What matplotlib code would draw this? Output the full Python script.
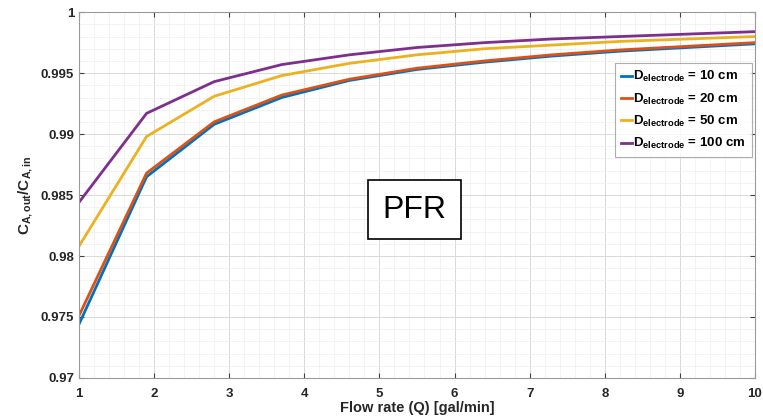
import numpy as np
import matplotlib
matplotlib.use("Agg")
import matplotlib.pyplot as plt
from matplotlib.ticker import MultipleLocator

plt.rcParams['font.family'] = ['Liberation Sans', 'DejaVu Sans']
plt.rcParams['font.weight'] = 'bold'
plt.rcParams['mathtext.fontset'] = 'custom'
plt.rcParams['mathtext.rm'] = 'Liberation Sans:bold'
plt.rcParams['mathtext.bf'] = 'Liberation Sans:bold'
plt.rcParams['mathtext.it'] = 'Liberation Sans:bold'

# flow rate (gal/min)
Q = [1.0, 1.9, 2.8, 3.7, 4.6, 5.5, 6.4, 7.3, 8.2, 9.1, 10.0]

# C_A,out / C_A,in for each electrode diameter
ratio_10 = [0.9744, 0.9865, 0.9908, 0.9930, 0.9944, 0.9953, 0.9959, 0.9964, 0.9968, 0.9971, 0.9974]
ratio_20 = [0.9751, 0.9868, 0.9910, 0.9932, 0.9945, 0.9954, 0.9960, 0.9965, 0.9969, 0.9972, 0.9975]
ratio_50 = [0.9808, 0.9898, 0.9931, 0.9948, 0.9958, 0.9965, 0.9970, 0.9973, 0.9976, 0.9978, 0.9980]
ratio_100 = [0.9844, 0.9917, 0.9943, 0.9957, 0.9965, 0.9971, 0.9975, 0.9978, 0.9980, 0.9982, 0.9984]

labels = ['10 cm', '20 cm', '50 cm', '100 cm']
colors = ['#0072BD', '#D95319', '#EDB120', '#7E2F8E']

fig = plt.figure(figsize=(7.63, 4.19), dpi=100)
ax = fig.add_axes([0.1035, 0.098, 0.886, 0.873])

for y, lab, c in zip([ratio_10, ratio_20, ratio_50, ratio_100], labels, colors):
    ax.plot(Q, y, color=c, lw=2, label=r'$\mathbf{D}_{\mathbf{electrode}}$ = ' + lab)

ax.set_xlim(1, 10)
ax.set_ylim(0.97, 1.0)
ax.xaxis.set_major_locator(MultipleLocator(1))
ax.xaxis.set_minor_locator(MultipleLocator(0.2))
ax.yaxis.set_minor_locator(MultipleLocator(0.001))
ax.set_yticks([0.97, 0.975, 0.98, 0.985, 0.99, 0.995, 1.0])
ax.set_yticklabels(['0.97', '0.975', '0.98', '0.985', '0.99', '0.995', '1'])

ax.grid(which='major', color='#d9d9d9', lw=0.7)
ax.grid(which='minor', color='#efefef', lw=0.5)
ax.set_axisbelow(True)
ax.tick_params(which='both', direction='in', top=True, right=True, colors='#404040', labelsize=9.5)
ax.tick_params(axis='x', pad=7)
ax.tick_params(which='minor', length=0)
for s in ax.spines.values():
    s.set_color('#9a9a9a')
    s.set_linewidth(0.8)
for t in ax.get_xticklabels() + ax.get_yticklabels():
    t.set_fontweight('bold')
    t.set_color('#262626')

ax.set_xlabel('Flow rate (Q) [gal/min]', fontsize=10.5, fontweight='bold', color='#262626', labelpad=1)
ax.set_ylabel(r'$\mathbf{C}_{\mathbf{A,out}}\mathbf{/C}_{\mathbf{A,in}}$', fontsize=11, color='#262626', labelpad=4)

leg = ax.legend(loc='upper right', bbox_to_anchor=(0.995, 0.86), fontsize=9.5, handlelength=0.8,
                handletextpad=0.1, borderpad=0.45, labelspacing=0.55, frameon=True, fancybox=False,
                borderaxespad=0)
leg.get_frame().set_edgecolor('#9a9a9a')
leg.get_frame().set_linewidth(0.8)
for t in leg.get_texts():
    t.set_fontweight('bold')

ax.text(5.47, 0.9838, 'PFR', fontsize=23, fontweight='normal', ha='center', va='center',
        bbox=dict(boxstyle='square,pad=0.45', facecolor='white', edgecolor='black', lw=1.2))

fig.savefig('out.png', dpi=100)
